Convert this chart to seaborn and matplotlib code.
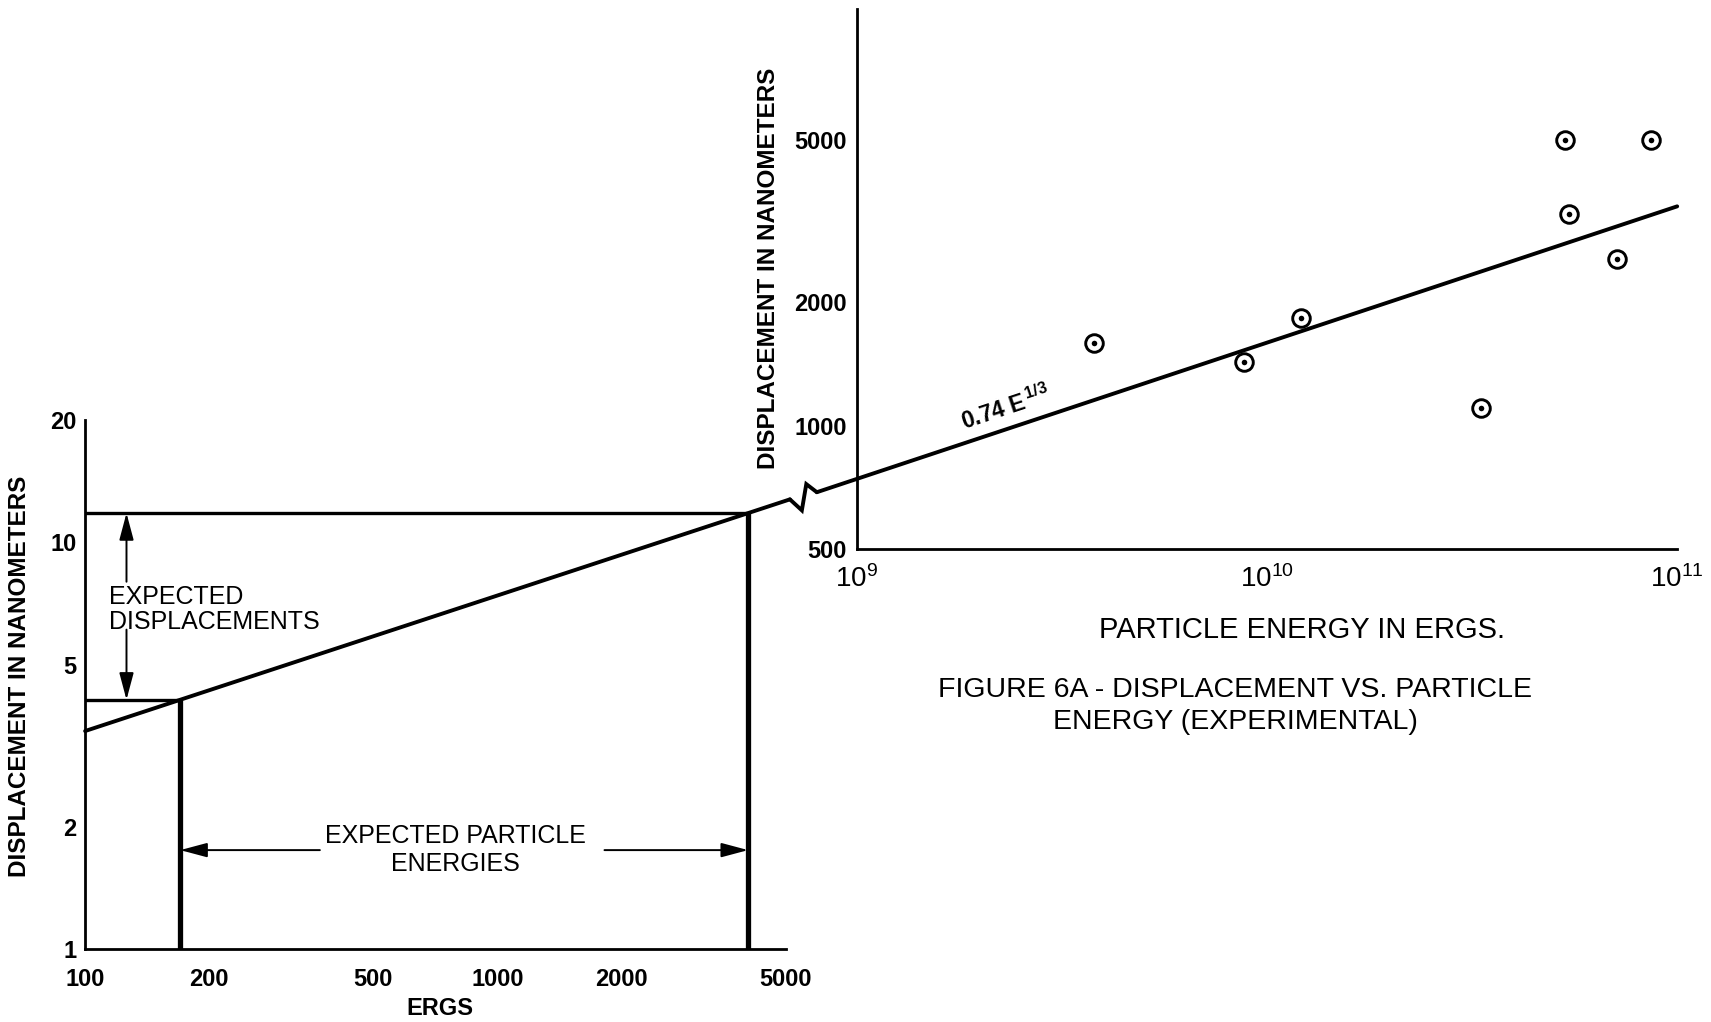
import numpy as np
import pandas as pd
import matplotlib
matplotlib.use("Agg")
import matplotlib.pyplot as plt
from matplotlib.lines import Line2D
from matplotlib.ticker import NullLocator
import seaborn as sns

# Fitted relation: displacement (nm) = FIT_COEF * energy(ergs) ** FIT_EXP
FIT_COEF = 0.74
FIT_EXP = 1.0 / 3.0

# Experimental measurements (right panel)
energy_ergs = [3.78e9, 8.80e9, 1.21e10, 3.32e10, 5.32e10, 5.45e10, 7.14e10, 8.64e10]
displacement_nm = [1595, 1433, 1830, 1103, 5000, 3298, 2559, 5000]

# Expected displacement band (left panel), nm
expected_disp = [4.1, 11.8]

# Extent of the fitted line in each panel (runs a little past the axis break)
left_curve_E = [100, 5120]
right_curve_E = [8.0e8, 1e11]

# Axis ticks and labels
left_xticks = [100, 200, 500, 1000, 2000, 5000]
left_xticklabels = ["100", "200", "500", "1000", "2000", "5000"]
left_yticks = [1, 2, 5, 10, 20]
left_yticklabels = ["1", "2", "5", "10", "20"]
right_xticks = [1e9, 1e10, 1e11]
right_xticklabels = [r"$\mathregular{10^{9}}$", r"$\mathregular{10^{10}}$", r"$\mathregular{10^{11}}$"]
right_yticks = [500, 1000, 2000, 5000]
right_yticklabels = ["500", "1000", "2000", "5000"]


def fit(e):
    return FIT_COEF * e ** FIT_EXP


def inverse_fit(d):
    return (d / FIT_COEF) ** (1.0 / FIT_EXP)


sns.set_theme(style="white", rc={"axes.edgecolor": "black", "axes.linewidth": 2.0,
                                 "xtick.color": "black", "ytick.color": "black",
                                 "text.color": "black", "axes.labelcolor": "black"})
plt.rcParams["font.family"] = ["Liberation Sans", "DejaVu Sans"]
plt.rcParams["mathtext.fontset"] = "custom"
plt.rcParams["mathtext.rm"] = "Liberation Sans"

fig = plt.figure(figsize=(17.11, 10.22), dpi=100)
ax1 = fig.add_axes([0.04974, 0.07150, 0.40944, 0.51761])
ax2 = fig.add_axes([0.50064, 0.46318, 0.47959, 0.52828])

LINE_W = 2.8
TICK_FS = 17
NOTE_FS = 18

# ---------------- left panel: expected energies ----------------
left_df = pd.DataFrame({"E": left_curve_E, "D": [fit(e) for e in left_curve_E]})
sns.lineplot(data=left_df, x="E", y="D", ax=ax1, color="black", lw=LINE_W,
             sort=False, estimator=None)
ax1.lines[-1].set_clip_on(False)
ax1.set_xscale("log")
ax1.set_yscale("log")
ax1.set_xlim(100, 5000)
ax1.set_ylim(1, 20)

d_lo, d_hi = expected_disp
e_lo, e_hi = inverse_fit(d_lo), inverse_fit(d_hi)
ax1.hlines([d_lo, d_hi], 100, [e_lo, e_hi], colors="black", lw=2.4)
ax1.vlines([e_lo, e_hi], 1, [d_lo, d_hi], colors="black", lw=3.8)

arrow_kw = dict(arrowstyle="-|>,head_length=0.75,head_width=0.2", color="black",
                lw=1.4, shrinkA=0, shrinkB=0, mutation_scale=22)
arrow_e = 126
ax1.annotate("", xy=(arrow_e, d_hi), xytext=(arrow_e, 8.0), arrowprops=arrow_kw)
ax1.annotate("", xy=(arrow_e, d_lo), xytext=(arrow_e, 6.1), arrowprops=arrow_kw)
ax1.text(114, 6.83, "EXPECTED\nDISPLACEMENTS", ha="left", va="center",
         fontsize=NOTE_FS, linespacing=1.05)

arrow_d = 1.75
ax1.annotate("", xy=(e_lo, arrow_d), xytext=(371, arrow_d), arrowprops=arrow_kw)
ax1.annotate("", xy=(e_hi, arrow_d), xytext=(1818, arrow_d), arrowprops=arrow_kw)
ax1.text(793, arrow_d, "EXPECTED PARTICLE\nENERGIES", ha="center", va="center",
         fontsize=NOTE_FS, linespacing=1.2)

ax1.set_xticks(left_xticks)
ax1.set_xticklabels(left_xticklabels, fontsize=TICK_FS, fontweight="bold")
ax1.set_yticks(left_yticks)
ax1.set_yticklabels(left_yticklabels, fontsize=TICK_FS, fontweight="bold")
ax1.xaxis.set_minor_locator(NullLocator())
ax1.yaxis.set_minor_locator(NullLocator())
ax1.tick_params(axis="x", direction="in", length=11, width=1.8, pad=14)
ax1.tick_params(axis="y", direction="in", length=9.5, width=1.8, pad=6)
ax1.set_xlabel("ERGS", fontsize=17, fontweight="bold")
ax1.xaxis.set_label_coords(0.506, -0.09)
ax1.set_ylabel("DISPLACEMENT IN NANOMETERS", fontsize=17.5, fontweight="bold")
ax1.yaxis.set_label_coords(-0.077, 0.515)
ax1.spines[["top", "right"]].set_visible(False)

# ---------------- right panel: experimental points ----------------
right_df = pd.DataFrame({"E": right_curve_E, "D": [fit(e) for e in right_curve_E]})
sns.lineplot(data=right_df, x="E", y="D", ax=ax2, color="black", lw=LINE_W,
             sort=False, estimator=None)
ax2.lines[-1].set_clip_on(False)

pts = pd.DataFrame({"E": energy_ergs, "D": displacement_nm})
sns.scatterplot(data=pts, x="E", y="D", ax=ax2, s=160, marker="o",
                facecolor="white", edgecolor="black", linewidth=2.1, zorder=4)
sns.scatterplot(data=pts, x="E", y="D", ax=ax2, s=16, marker="o",
                color="black", linewidth=0, zorder=5)

ax2.set_xscale("log")
ax2.set_yscale("log")
ax2.set_xlim(1e9, 1e11)
ax2.set_ylim(500, 10450)

ax2.set_xticks(right_xticks)
ax2.set_xticklabels(right_xticklabels, fontsize=20)
ax2.set_yticks(right_yticks)
ax2.set_yticklabels(right_yticklabels, fontsize=TICK_FS, fontweight="bold")
ax2.xaxis.set_minor_locator(NullLocator())
ax2.yaxis.set_minor_locator(NullLocator())
ax2.tick_params(axis="x", direction="in", length=11, width=1.6, pad=12)
ax2.tick_params(axis="y", direction="in", length=11, width=1.8, pad=7)
ax2.xaxis.get_major_ticks()[1].tick1line.set_markersize(6)
ax2.set_xlabel("PARTICLE ENERGY IN ERGS.", fontsize=21)
ax2.xaxis.set_label_coords(0.5426, -0.125)
ax2.set_ylabel("DISPLACEMENT IN NANOMETERS", fontsize=17.5, fontweight="bold")
ax2.yaxis.set_label_coords(-0.093, 0.519)
ax2.spines[["top", "right"]].set_visible(False)

# label along the fitted line
e_lab = 2.4e9
p0 = ax2.transData.transform((e_lab, fit(e_lab)))
p1 = ax2.transData.transform((e_lab * 10, fit(e_lab * 10)))
angle = np.degrees(np.arctan2(p1[1] - p0[1], p1[0] - p0[0]))
ax2.annotate(r"0.74 E$^{\mathregular{\,1/3}}$", xy=(e_lab, fit(e_lab)), xytext=(-2, 5),
             textcoords="offset points", rotation=angle, rotation_mode="anchor",
             ha="center", va="bottom", fontsize=16.5, fontweight="bold")

# axis-break zigzag joining the two segments of the fitted line
pA = ax1.transData.transform((left_curve_E[-1], fit(left_curve_E[-1])))
pD = ax2.transData.transform((right_curve_E[0], fit(right_curve_E[0])))
pt = fig.dpi / 72.0
pB = pA + np.array([8.6, -7.9]) * pt
pC = pA + np.array([11.8, 11.0]) * pt
zig = fig.transFigure.inverted().transform(np.vstack([pA, pB, pC, pD]))
fig.add_artist(Line2D(zig[:, 0], zig[:, 1], transform=fig.transFigure,
                      color="black", lw=LINE_W, solid_joinstyle="miter"))

# caption
fig.text(1132 / 1568, 1 - 647 / 937,
         "FIGURE 6A - DISPLACEMENT VS. PARTICLE\nENERGY (EXPERIMENTAL)",
         ha="center", va="center", fontsize=20.5, linespacing=1.3)

fig.savefig("out.png", dpi=100, facecolor="white")
